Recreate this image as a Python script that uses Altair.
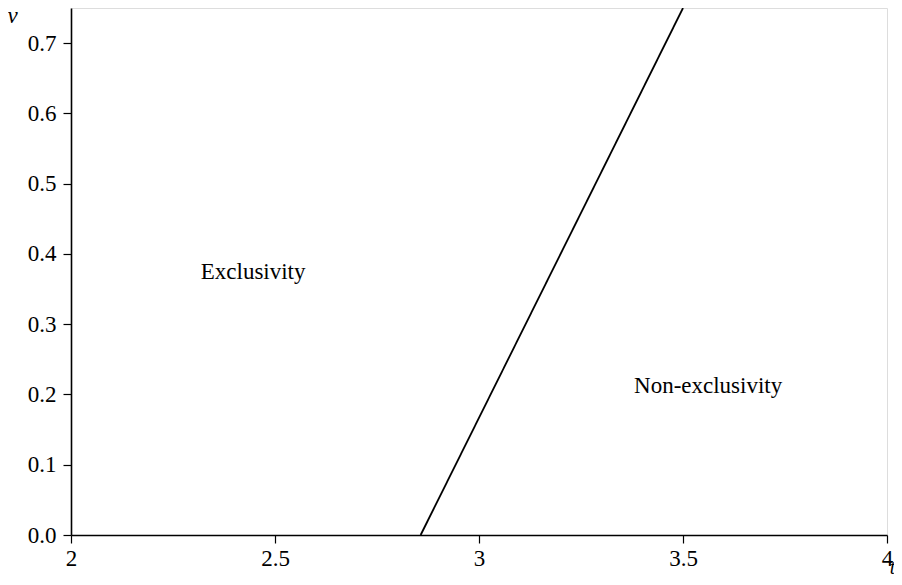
import altair as alt
import pandas as pd

# boundary line between regions
line_t = [2.857, 3.5]
line_v = [0.0, 0.75]

# region labels
label_text = ["Exclusivity", "Non-exclusivity"]
label_t = [2.318, 3.38]
label_v = [0.375, 0.212]

x_ticks = [2, 2.5, 3, 3.5, 4]
y_ticks = [0.0, 0.1, 0.2, 0.3, 0.4, 0.5, 0.6, 0.7]

FONT = "Liberation Serif"
FS = 23

line_df = pd.DataFrame({"t": line_t, "v": line_v})
lab_df = pd.DataFrame({"text": label_text, "t": label_t, "v": label_v})

xscale = alt.Scale(domain=[2, 4], nice=False, zero=False)
yscale = alt.Scale(domain=[0, 0.75], nice=False, zero=False)

xaxis = alt.Axis(
    values=x_ticks, labelExpr="datum.value", grid=False,
    domainColor="black", domainWidth=1.6, tickColor="black", tickWidth=1.2, tickSize=8,
    labelFont=FONT, labelFontSize=FS, labelColor="black", labelPadding=4,
    labelFlush=False,
    title="t", titleFont=FONT, titleFontStyle="italic", titleFontWeight="normal",
    titleFontSize=20, titleColor="black", titleX=821, titleY=38,
    titleAlign="center", titleBaseline="alphabetic",
)
yaxis = alt.Axis(
    values=y_ticks, format=".1f", grid=False,
    domainColor="black", domainWidth=1.6, tickColor="black", tickWidth=1.2, tickSize=8,
    labelFont=FONT, labelFontSize=FS, labelColor="black", labelPadding=7,
    labelFlush=False,
    title="v", titleFont=FONT, titleFontStyle="italic", titleFontWeight="normal",
    titleFontSize=FS, titleColor="black", titleAngle=0, titleX=-59, titleY=14,
    titleAlign="center", titleBaseline="alphabetic",
)

line = alt.Chart(line_df).mark_line(color="black", strokeWidth=1.8).encode(
    x=alt.X("t:Q", scale=xscale, axis=xaxis),
    y=alt.Y("v:Q", scale=yscale, axis=yaxis),
)

labels = alt.Chart(lab_df).mark_text(
    font=FONT, fontSize=FS, color="black", align="left", baseline="middle"
).encode(
    x=alt.X("t:Q", scale=xscale),
    y=alt.Y("v:Q", scale=yscale),
    text="text:N",
)

chart = alt.layer(line, labels).properties(
    width=816, height=527,
    autosize=alt.AutoSizeParams(type="none"),
    padding={"left": 63, "top": 0, "right": 7, "bottom": 42},
).configure_view(stroke="#888888", strokeWidth=1.2).configure(background="white")

chart.save("out.html", embed_options={"renderer": "svg", "actions": False})
